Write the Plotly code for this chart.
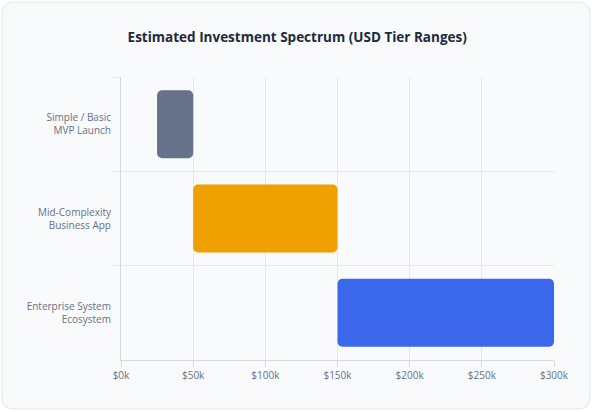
import plotly.graph_objects as go

# investment tiers (USD)
tiers = ["Simple / Basic<br>MVP Launch", "Mid-Complexity<br>Business App", "Enterprise System<br>Ecosystem"]
low = [25000, 50000, 150000]
high = [50000, 150000, 300000]
colors = ["#667289", "#eda000", "#3b68eb"]

x_ticks = [0, 50000, 100000, 150000, 200000, 250000, 300000]
x_tick_labels = ["$0k", "$50k", "$100k", "$150k", "$200k", "$250k", "$300k"]

W, H = 592, 412
ml, mr, mt, mb = 121, 38, 77, 52
pw, ph = W - ml - mr, H - mt - mb


def px(x):
    return (x - ml) / pw


def py(y):
    return (H - mb - y) / ph


# rounded card behind the chart
x0, x1, y0, y1, r = 2, 590, 2, 409, 12
card = (
    f"M {px(x0 + r)} {py(y0)} L {px(x1 - r)} {py(y0)} "
    f"Q {px(x1)} {py(y0)} {px(x1)} {py(y0 + r)} L {px(x1)} {py(y1 - r)} "
    f"Q {px(x1)} {py(y1)} {px(x1 - r)} {py(y1)} L {px(x0 + r)} {py(y1)} "
    f"Q {px(x0)} {py(y1)} {px(x0)} {py(y1 - r)} L {px(x0)} {py(y0 + r)} "
    f"Q {px(x0)} {py(y0)} {px(x0 + r)} {py(y0)} Z"
)

fig = go.Figure()
fig.add_trace(go.Bar(
    y=tiers,
    x=[h - l for l, h in zip(low, high)],
    base=low,
    orientation="h",
    marker=dict(color=colors, line=dict(width=0)),
    width=0.72,
    hoverinfo="skip",
))

fig.update_layout(
    width=W, height=H,
    margin=dict(l=ml, r=mr, t=mt, b=mb),
    paper_bgcolor="white",
    plot_bgcolor="rgba(0,0,0,0)",
    font=dict(family="Open Sans", size=10, color="#667085"),
    barcornerradius=5,
    showlegend=False,
    title=dict(
        text="<b>Estimated Investment Spectrum (USD Tier Ranges)</b>",
        x=0.502, xanchor="center", y=1 - 37 / H, yanchor="middle",
        font=dict(size=13.5, color="#1e293b"),
    ),
    xaxis=dict(
        range=[0, 300000],
        tickvals=x_ticks, ticktext=x_tick_labels,
        showgrid=True, gridcolor="#e5e7eb", gridwidth=1,
        zeroline=False,
        showline=True, linecolor="#d4d7dd", linewidth=1,
        ticks="outside", ticklen=6, tickcolor="#d4d7dd",
        tickfont=dict(size=10, color="#667085"),
    ),
    yaxis=dict(
        categoryorder="array", categoryarray=tiers,
        autorange="reversed",
        tickson="boundaries",
        showgrid=True, gridcolor="#e5e7eb", gridwidth=1,
        showline=True, linecolor="#d4d7dd", linewidth=1,
        ticks="outside", ticklen=7, tickcolor="#e5e7eb",
        ticklabelstandoff=7,
        tickfont=dict(size=10, color="#667085"),
    ),
    shapes=[dict(
        type="path", path=card, xref="paper", yref="paper",
        fillcolor="#f8fafc", line=dict(color="#e2e8f0", width=1),
        layer="below",
    )],
)

fig.write_html("out.html", config={"displayModeBar": False},
               post_script="document.body.style.margin = '0';")
